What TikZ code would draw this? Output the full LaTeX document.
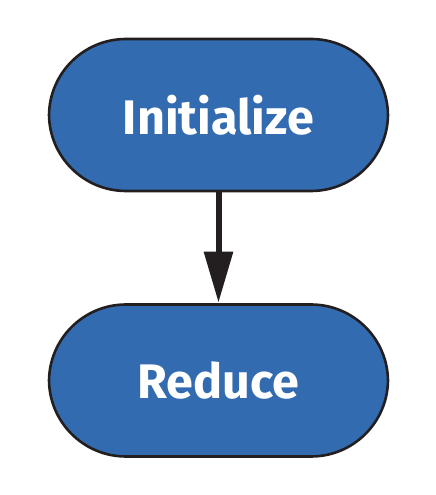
\documentclass[tikz,border=0pt]{standalone}
\usepackage{fontspec}
\setmainfont{Fira Sans}
\usetikzlibrary{arrows.meta}
\definecolor{boxblue}{HTML}{336BB0}
\definecolor{inkdark}{HTML}{231F20}
\tikzset{
  stadium/.style={draw=inkdark, line width=2.6pt, fill=boxblue, rounded corners=77pt,
    minimum width=339pt, minimum height=152pt, inner sep=0pt,
    text=white, font=\fontsize{48.5}{52}\selectfont\bfseries},
  flow/.style={draw=inkdark, line width=6pt, -{Triangle[length=51pt,width=28pt]}, shorten >=0.5pt}
}
\begin{document}
\begin{tikzpicture}[x=1pt,y=1pt]
\useasboundingbox (0,0) rectangle (436,495);
\node[stadium] (init) at (218.5,380) {Initialize};
\node[stadium] (reduce) at (218.5,114.5) {Reduce};
\draw[flow] (init.south) -- (reduce.north);
\end{tikzpicture}
\end{document}
